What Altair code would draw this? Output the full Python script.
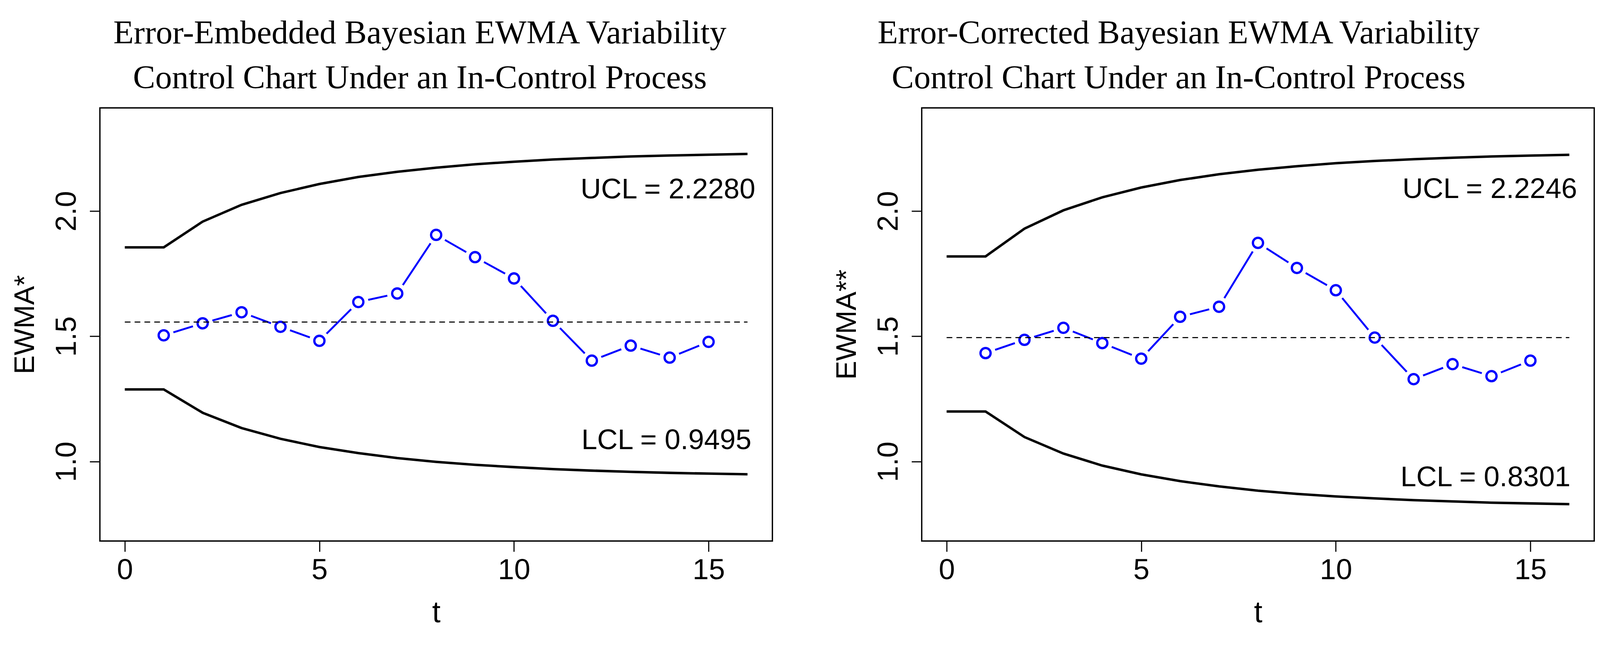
import altair as alt
import pandas as pd

# ---- data ----
t_lim = list(range(17))
ucl_left = [1.855, 1.855, 1.958, 2.025, 2.072, 2.108, 2.136, 2.157, 2.173, 2.187,
            2.197, 2.206, 2.212, 2.218, 2.222, 2.225, 2.228]
lcl_left = [1.288, 1.288, 1.195, 1.134, 1.091, 1.058, 1.034, 1.014, 0.999, 0.987,
            0.978, 0.970, 0.964, 0.959, 0.955, 0.952, 0.9495]
ucl_right = [1.819, 1.819, 1.930, 2.003, 2.055, 2.094, 2.124, 2.147, 2.165, 2.179,
             2.191, 2.200, 2.207, 2.213, 2.218, 2.2215, 2.2246]
lcl_right = [1.200, 1.200, 1.098, 1.032, 0.984, 0.949, 0.922, 0.901, 0.884, 0.871,
             0.861, 0.853, 0.846, 0.841, 0.836, 0.833, 0.8301]
t_pts = list(range(1, 16))
ewma_left = [1.504, 1.552, 1.596, 1.538, 1.482, 1.637, 1.671, 1.905, 1.816, 1.731,
             1.562, 1.403, 1.463, 1.415, 1.478]
ewma_right = [1.433, 1.486, 1.534, 1.473, 1.411, 1.578, 1.618, 1.873, 1.773, 1.684,
              1.495, 1.329, 1.389, 1.341, 1.403]
cl_left = 1.557
cl_right = 1.495
x_ticks = [0, 5, 10, 15]
y_ticks = [1.0, 1.5, 2.0]

titles_left = ["Error-Embedded Bayesian EWMA Variability",
               "Control Chart Under an In-Control Process"]
titles_right = ["Error-Corrected Bayesian EWMA Variability",
                "Control Chart Under an In-Control Process"]

W, H = 1779, 1146
SANS = "Liberation Sans"
SERIF = "Liberation Serif"
BLUE = "#0000ff"


def panel(title_lines, ylab, ucl, lcl, ewma, cl, ucl_lab, lcl_lab,
          ucl_xy, lcl_xy, title_dx):
    xs = alt.Scale(domain=[-0.64, 16.64], nice=False, zero=False)
    ys = alt.Scale(domain=[0.683, 2.412], nice=False, zero=False)
    xax = alt.Axis(values=x_ticks, title="t", labelFontSize=77, tickSize=28,
                   labelPadding=73, labelBaseline="alphabetic", labelFlush=False,
                   labelOverlap=False, titleFontSize=80, titleBaseline="alphabetic",
                   titleX=W / 2, titleY=214)
    yax = alt.Axis(values=y_ticks, format=".1f", title=ylab, labelFontSize=77,
                   labelAngle=270, labelAlign="center", labelBaseline="alphabetic",
                   labelPadding=37, tickSize=27, labelFlush=False, labelOverlap=False,
                   titleFontSize=75, titleAngle=270, titleBaseline="alphabetic",
                   titleAlign="center", titleX=-175, titleY=H / 2)

    def X(f):
        return alt.X(f, type="quantitative", scale=xs, axis=xax)

    def Y(f):
        return alt.Y(f, type="quantitative", scale=ys, axis=yax)

    lim = pd.DataFrame({"t": t_lim, "ucl": ucl, "lcl": lcl})
    pts = pd.DataFrame({"t": t_pts, "ewma": ewma})
    cldf = pd.DataFrame({"x": [0], "x2": [16], "y": [cl]})
    txt = pd.DataFrame({"x": [ucl_xy[0], lcl_xy[0]], "y": [ucl_xy[1], lcl_xy[1]],
                        "label": [ucl_lab, lcl_lab]})

    ucl_line = alt.Chart(lim).mark_line(color="black", strokeWidth=6.5).encode(
        x=X("t"), y=Y("ucl"))
    lcl_line = alt.Chart(lim).mark_line(color="black", strokeWidth=6.5).encode(
        x=X("t"), y=Y("lcl"))
    bline = alt.Chart(pts).mark_line(color=BLUE, strokeWidth=5).encode(
        x=X("t"), y=Y("ewma"))
    # white disc behind each marker so the connecting segments stop short of it
    halo = alt.Chart(pts).mark_point(shape="circle", filled=True, color="white",
                                     size=2900, opacity=1).encode(
        x=X("t"), y=Y("ewma"))
    circ = alt.Chart(pts).mark_point(shape="circle", filled=False, color=BLUE,
                                     size=720, opacity=1, strokeWidth=6).encode(
        x=X("t"), y=Y("ewma"))
    clr = alt.Chart(cldf).mark_rule(color="black", strokeWidth=3,
                                    strokeDash=[15, 11]).encode(
        x=X("x"), x2="x2:Q", y=Y("y"))
    tx = alt.Chart(txt).mark_text(align="right", baseline="alphabetic", font=SANS,
                                  fontSize=75, color="black").encode(
        x=X("x"), y=Y("y"), text="label:N")

    return alt.layer(ucl_line, lcl_line, bline, halo, circ, clr, tx).properties(
        width=W, height=H,
        title=alt.TitleParams(text=title_lines, font=SERIF, fontSize=88,
                              fontWeight="normal", color="black", lineHeight=119,
                              anchor="middle", baseline="bottom", offset=-54,
                              dx=title_dx))


left = panel(titles_left, "EWMA*", ucl_left, lcl_left, ewma_left, cl_left,
             "UCL = 2.2280", "LCL = 0.9495", (16.20, 2.051), (16.10, 1.050), -43)
right = panel(titles_right, "EWMA**", ucl_right, lcl_right, ewma_right, cl_right,
              "UCL = 2.2246", "LCL = 0.8301", (16.20, 2.052), (16.03, 0.902), -210)

chart = alt.hconcat(left, right, spacing=395, bounds="flush").properties(
    padding={"left": 19, "top": 7, "right": 5, "bottom": 0},
    background="white",
).configure_view(stroke="black", strokeWidth=3.5).configure_axis(
    labelFont=SANS, titleFont=SANS, labelColor="black", titleColor="black",
    tickColor="black", tickWidth=3, domain=False, grid=False,
    titleFontWeight="normal")

chart.save("out.html", embed_options={"renderer": "svg", "actions": False})
